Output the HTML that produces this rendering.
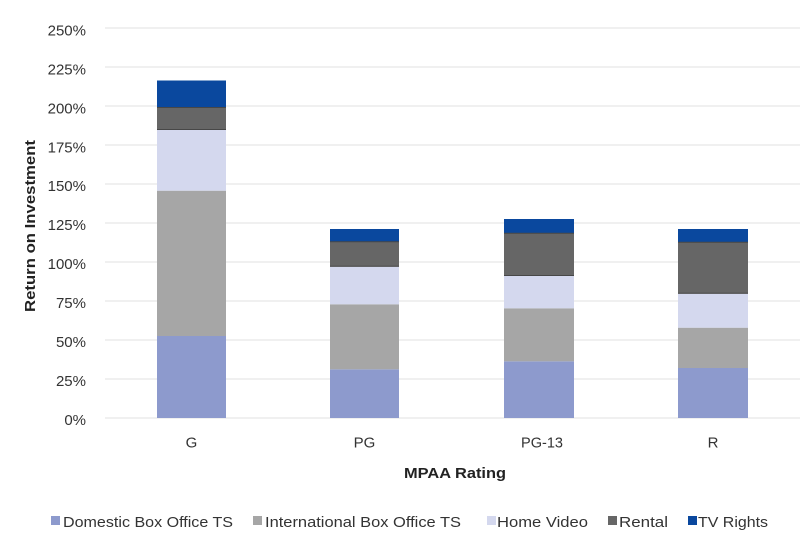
<!DOCTYPE html>
<html>
<head>
<meta charset="utf-8">
<style>
html,body{margin:0;padding:0;background:#fff;}
svg{display:block;}
text{font-family:"Liberation Sans",sans-serif;}
</style>
</head>
<body>
<svg width="800" height="547" viewBox="0 0 800 547" xmlns="http://www.w3.org/2000/svg">
<rect width="800" height="547" fill="#fff"/>
<!-- gridlines -->
<g stroke="#ebebeb" stroke-width="1.5">
<line x1="105" y1="418" x2="800" y2="418"/>
<line x1="105" y1="379" x2="800" y2="379"/>
<line x1="105" y1="340" x2="800" y2="340"/>
<line x1="105" y1="301" x2="800" y2="301"/>
<line x1="105" y1="262" x2="800" y2="262"/>
<line x1="105" y1="223" x2="800" y2="223"/>
<line x1="105" y1="184" x2="800" y2="184"/>
<line x1="105" y1="145" x2="800" y2="145"/>
<line x1="105" y1="106" x2="800" y2="106"/>
<line x1="105" y1="67" x2="800" y2="67"/>
<line x1="105" y1="28" x2="800" y2="28"/>
</g>
<!-- tick labels -->
<g font-size="15" fill="#333" text-anchor="end">
<text x="86" y="425">0%</text>
<text x="86" y="386">25%</text>
<text x="86" y="347">50%</text>
<text x="86" y="308">75%</text>
<text x="86" y="269">100%</text>
<text x="86" y="230">125%</text>
<text x="86" y="191">150%</text>
<text x="86" y="152.5">175%</text>
<text x="86" y="113.5">200%</text>
<text x="86" y="74.5">225%</text>
<text x="86" y="35.5">250%</text>
</g>
<!-- bars -->
<!-- G -->
<rect x="157" y="336" width="69" height="82" fill="#8d9acd"/>
<rect x="157" y="190.7" width="69" height="145.3" fill="#a6a6a6"/>
<rect x="157" y="130" width="69" height="60.7" fill="#d4d8ee"/>
<rect x="157" y="107.5" width="69" height="22.5" fill="#666666"/>
<rect x="157" y="80.5" width="69" height="27" fill="#0a489e"/>
<!-- PG -->
<rect x="330" y="369.3" width="69" height="48.7" fill="#8d9acd"/>
<rect x="330" y="304.3" width="69" height="65" fill="#a6a6a6"/>
<rect x="330" y="266.7" width="69" height="37.6" fill="#d4d8ee"/>
<rect x="330" y="241.7" width="69" height="25" fill="#666666"/>
<rect x="330" y="229" width="69" height="12.7" fill="#0a489e"/>
<!-- PG-13 -->
<rect x="504" y="361.3" width="70" height="56.7" fill="#8d9acd"/>
<rect x="504" y="308.3" width="70" height="53" fill="#a6a6a6"/>
<rect x="504" y="276" width="70" height="32.3" fill="#d4d8ee"/>
<rect x="504" y="233.3" width="70" height="42.7" fill="#666666"/>
<rect x="504" y="219" width="70" height="14.3" fill="#0a489e"/>
<!-- R -->
<rect x="678" y="368" width="70" height="50" fill="#8d9acd"/>
<rect x="678" y="327.7" width="70" height="40.3" fill="#a6a6a6"/>
<rect x="678" y="293.7" width="70" height="34" fill="#d4d8ee"/>
<rect x="678" y="242.3" width="70" height="51.4" fill="#666666"/>
<rect x="678" y="229" width="70" height="13.3" fill="#0a489e"/>
<!-- subtle separators -->
<g stroke="#474747" stroke-width="1">
<line x1="157" y1="129.5" x2="226" y2="129.5"/>
<line x1="157" y1="107.5" x2="226" y2="107.5"/>
<line x1="330" y1="266.2" x2="399" y2="266.2"/>
<line x1="330" y1="241.7" x2="399" y2="241.7"/>
<line x1="504" y1="275.5" x2="574" y2="275.5"/>
<line x1="504" y1="233.3" x2="574" y2="233.3"/>
<line x1="678" y1="293.2" x2="748" y2="293.2"/>
<line x1="678" y1="242.3" x2="748" y2="242.3"/>
</g>
<!-- x labels -->
<g font-size="15" fill="#333" text-anchor="middle">
<text x="191.5" y="447.5">G</text>
<text x="364.5" y="447.5">PG</text>
<text x="542" y="447.5" textLength="42" lengthAdjust="spacingAndGlyphs">PG-13</text>
<text x="713" y="447.5">R</text>
</g>
<text x="404" y="478" font-size="15" font-weight="bold" fill="#222" textLength="102" lengthAdjust="spacingAndGlyphs">MPAA Rating</text>
<text transform="translate(35,226) rotate(-90)" x="0" y="0" text-anchor="middle" font-size="15" font-weight="bold" fill="#222" textLength="172" lengthAdjust="spacingAndGlyphs">Return on Investment</text>
<!-- legend -->
<g font-size="15" fill="#333">
<rect x="51" y="516" width="9" height="9" fill="#8d9acd"/>
<text x="63" y="527" textLength="170" lengthAdjust="spacingAndGlyphs">Domestic Box Office TS</text>
<rect x="253" y="516" width="9" height="9" fill="#a6a6a6"/>
<text x="265" y="527" textLength="196" lengthAdjust="spacingAndGlyphs">International Box Office TS</text>
<rect x="487" y="516" width="9" height="9" fill="#d4d8ee"/>
<text x="497" y="527" textLength="91" lengthAdjust="spacingAndGlyphs">Home Video</text>
<rect x="608" y="516" width="9" height="9" fill="#666666"/>
<text x="619" y="527" textLength="49" lengthAdjust="spacingAndGlyphs">Rental</text>
<rect x="688" y="516" width="9" height="9" fill="#0a489e"/>
<text x="698" y="527" textLength="70" lengthAdjust="spacingAndGlyphs">TV Rights</text>
</g>
</svg>
</body>
</html>
